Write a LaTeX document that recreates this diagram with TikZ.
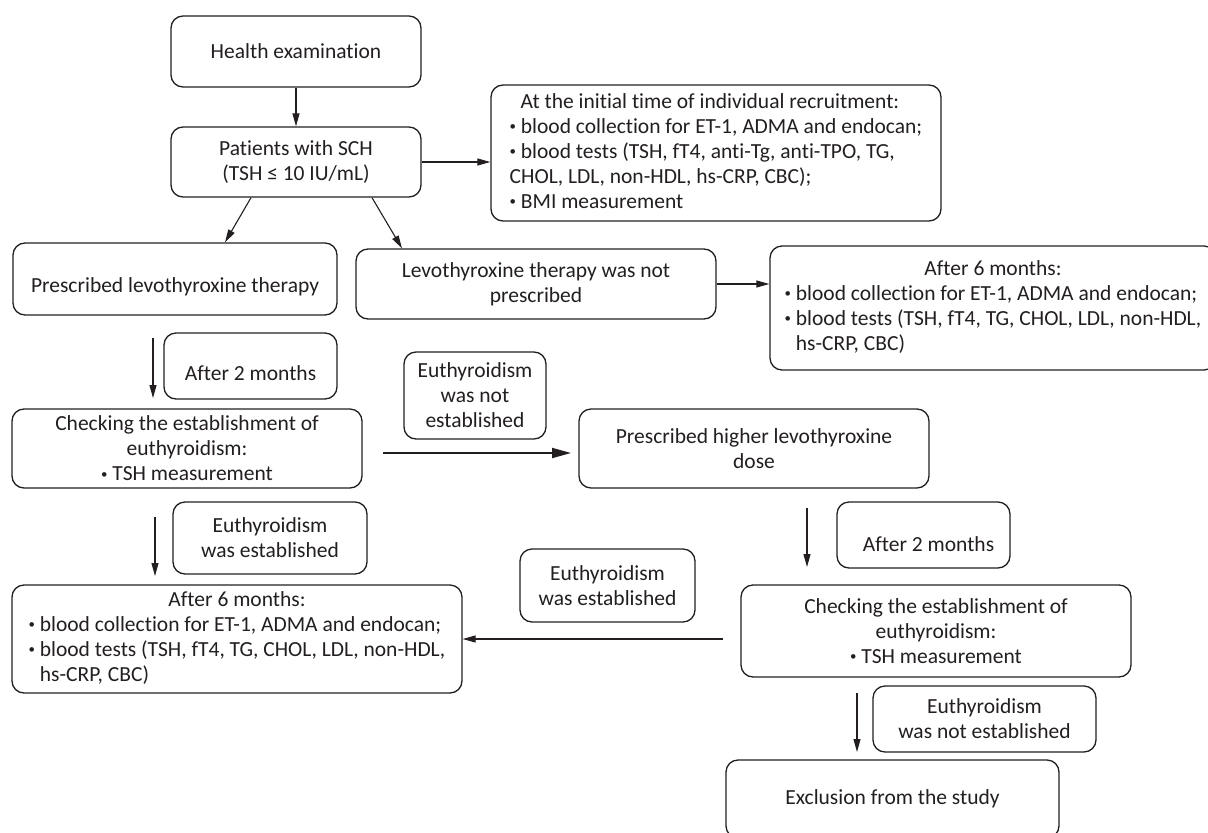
\documentclass[tikz,border=0pt]{standalone}
\usepackage{fontspec}
\setmainfont{Carlito}[Ligatures={NoCommon}]
\usetikzlibrary{arrows.meta}
\definecolor{ink}{HTML}{231F20}
\newcommand\flowbox[6]{\node[box,minimum width={#4-#2},minimum height={#5-#3}] (#1) at ({(#2+#4)/2},{(#3+#5)/2}) {#6};}
\newcommand\bul{\raisebox{0.12em}{\scalebox{0.6}{•}}}
\newcommand\lowered[2]{\raisebox{-#1}[\height][\depth]{#2}}
\begin{document}
\begin{tikzpicture}[x=1pt,y=-1pt,
  box/.style={draw=ink, line width=1.3pt, rounded corners=12pt, inner sep=0pt, align=center,
              font=\fontsize{21.5}{25}\selectfont, text=ink},
  arr/.style={draw=ink, line width=1.1pt, -{Triangle[length=13pt,width=7pt]}},
  bigarr/.style={draw=ink, line width=1.8pt, -{Triangle[length=19pt,width=10pt]}},
]
\fill[white] (0,0) rectangle (1208,833);
\useasboundingbox (0,0) rectangle (1208,833);
\clip (0,0) rectangle (1208,833);

\flowbox{health}{171}{16}{421}{87}{Health examination}
\flowbox{sch}{171}{127}{421}{197}{Patients with SCH\\(TSH ≤ 10 IU/mL)}
\flowbox{initial}{491}{85}{941}{221}{\begin{tabular}{@{}l@{}}\hspace*{11pt}At the initial time of individual recruitment:\\
\bul\ blood collection for ET-1, ADMA and endocan;\\
\bul\ blood tests (TSH, fT4, anti-Tg, anti-TPO, TG,\\
CHOL, LDL, non-HDL, hs-CRP, CBC);\\
\bul\ BMI measurement\end{tabular}}
\flowbox{presc}{13}{243}{337}{315}{\lowered{8pt}{Prescribed levothyroxine therapy}}
\flowbox{notpres}{356}{249}{716}{319}{Levothyroxine therapy was not\\prescribed}
\flowbox{after6r}{770}{246}{1216}{370}{\begin{tabular}{@{}l@{}}\multicolumn{1}{@{}c@{}}{After 6 months:}\\
\bul\ blood collection for ET-1, ADMA and endocan;\\
\bul\ blood tests (TSH, fT4, TG, CHOL, LDL, non-HDL,\\
\phantom{\bul\ }hs-CRP, CBC)\end{tabular}}
\flowbox{after2a}{164}{333}{337}{399}{\lowered{7pt}{After 2 months}}
\flowbox{check1}{12}{409}{362}{488}{Checking the establishment of\\euthyroidism:\\\bul\ TSH measurement}
\flowbox{eunot1}{404}{352}{546}{439}{Euthyroidism\\was not\\established}
\flowbox{higher}{579}{409}{929}{488}{Prescribed higher levothyroxine\\dose}
\flowbox{euest1}{173}{502}{367}{574}{Euthyroidism\\was established}
\flowbox{after6l}{12}{585}{462}{693}{\begin{tabular}{@{}l@{}}\multicolumn{1}{@{}c@{}}{After 6 months:}\\
\bul\ blood collection for ET-1, ADMA and endocan;\\
\bul\ blood tests (TSH, fT4, TG, CHOL, LDL, non-HDL,\\
\phantom{\bul\ }hs-CRP, CBC)\end{tabular}}
\flowbox{after2b}{837}{502}{1010}{568}{\lowered{9pt}{\hspace*{10pt}After 2 months}}
\flowbox{euest2}{520}{549}{695}{622}{Euthyroidism\\was established}
\flowbox{check2}{741}{585}{1131}{677}{Checking the establishment of\\euthyroidism:\\\bul\ TSH measurement}
\flowbox{eunot2}{873}{686}{1096}{752}{Euthyroidism\\was not established}
\flowbox{excl}{726}{760}{1059}{838}{Exclusion from the study}

\coordinate (a1s) at (153,338); \coordinate (a1e) at (153,398);
\coordinate (h1s) at (383,453); \coordinate (h1e) at (571,453);
\coordinate (a2s) at (155,517); \coordinate (a2e) at (155,576);
\coordinate (a3s) at (807,508); \coordinate (a3e) at (807,567);
\coordinate (l1s) at (723,639);
\coordinate (a4s) at (857,693); \coordinate (a4e) at (857,752);

\draw[arr] (health) -- (sch);
\draw[arr] (sch.east) -- (sch.east -| initial.west);
\draw[arr] ([xshift=-45pt]sch.south) -- ([xshift=50pt]presc.north);
\draw[arr] ([xshift=76pt]sch.south) -- ([xshift=-134pt]notpres.north);
\draw[arr] (notpres.east) -- (notpres.east -| after6r.west);
\draw[arr] (a1s) -- (a1e);
\draw[bigarr] (h1s) -- (h1e);
\draw[arr] (a2s) -- (a2e);
\draw[arr] (a3s) -- (a3e);
\draw[arr] (l1s) -- (l1s -| after6l.east);
\draw[arr] (a4s) -- (a4e);
\end{tikzpicture}
\end{document}
